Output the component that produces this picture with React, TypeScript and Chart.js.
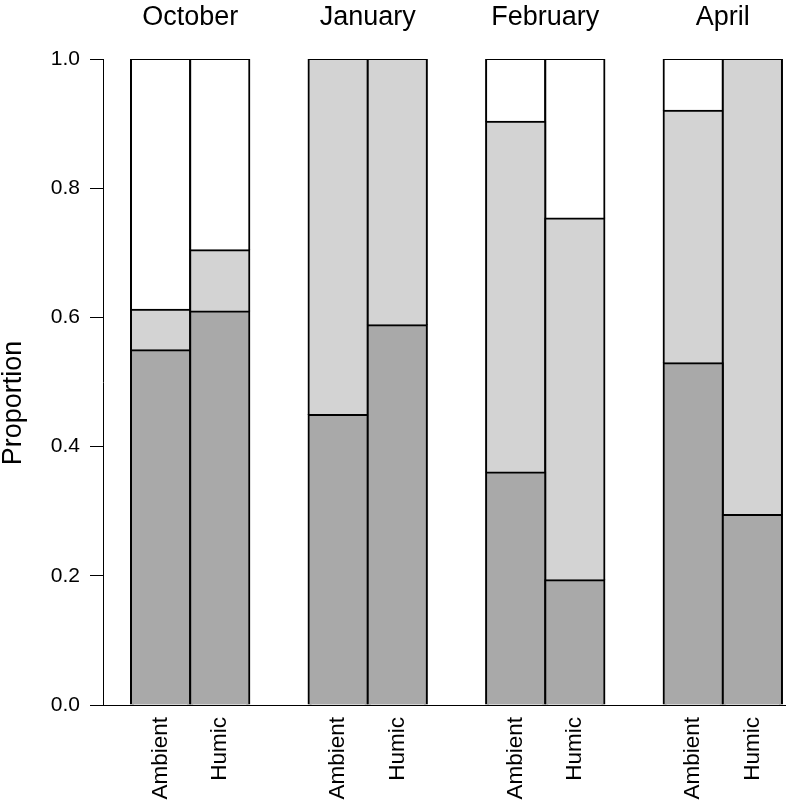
import React, { useEffect, useRef } from "react";
import { Chart, registerables } from "chart.js";

Chart.register(...registerables);

// ---- data ----
const months = ["October", "January", "February", "April"];
const treatments = ["Ambient", "Humic"];
// proportions per bar, month-major order (Ambient, Humic for each month)
const darkShare = [0.549, 0.609, 0.449, 0.588, 0.36, 0.193, 0.529, 0.294];
const lightShare = [0.063, 0.095, 0.551, 0.412, 0.543, 0.56, 0.391, 0.706];
const whiteShare = [0.388, 0.296, 0, 0, 0.097, 0.247, 0.08, 0];
const yTicks = [0, 0.2, 0.4, 0.6, 0.8, 1.0];
const yTitle = "Proportion";

const FONT = '"Liberation Sans", Arial, Helvetica, sans-serif';
const groupSize = treatments.length + 1; // bars plus one empty slot
const slotOf = (i: number) =>
  Math.floor(i / treatments.length) * groupSize + (i % treatments.length) + 0.5;
const barSlots = darkShare.map((_, i) => slotOf(i));
const monthCenters = months.map((_, m) => m * groupSize + treatments.length / 2);
const xMin = -0.473;
const xMax = months.length * groupSize - 1 + 0.068;

const yTitlePlugin = {
  id: "yTitlePlugin",
  afterDraw(chart: any) {
    const { ctx, chartArea } = chart;
    ctx.save();
    ctx.fillStyle = "#000";
    ctx.font = `27px ${FONT}`;
    ctx.textAlign = "center";
    ctx.textBaseline = "middle";
    ctx.translate(14, (chartArea.top + chartArea.bottom) / 2 + 21);
    ctx.rotate(-Math.PI / 2);
    ctx.fillText(yTitle, 0, 0);
    ctx.restore();
  },
};

export default function App() {
  const ref = useRef<HTMLCanvasElement | null>(null);

  useEffect(() => {
    if (!ref.current) return;
    Chart.defaults.font.family = FONT;
    Chart.defaults.color = "#000";

    const mk = (label: string, values: number[], color: string) => ({
      label,
      data: values.map((v, i) => ({ x: barSlots[i], y: v })),
      backgroundColor: color,
      borderColor: "#000",
      borderWidth: 2,
      inflateAmount: 1,
      borderSkipped: "start" as const,
      categoryPercentage: 1,
      barPercentage: 1,
    });

    const chart = new Chart(ref.current, {
      type: "bar",
      data: {
        datasets: [
          mk("dark", darkShare, "#A9A9A9"),
          mk("light", lightShare, "#D3D3D3"),
          mk("white", whiteShare, "#FFFFFF"),
        ],
      },
      plugins: [yTitlePlugin],
      options: {
        animation: false,
        responsive: true,
        maintainAspectRatio: false,
        layout: { padding: 0 },
        plugins: { legend: { display: false }, tooltip: { enabled: false } },
        scales: {
          x: {
            type: "linear",
            position: "bottom",
            stacked: true,
            offset: false,
            min: xMin,
            max: xMax,
            afterBuildTicks: (s: any) => {
              s.ticks = barSlots.map((v) => ({ value: v }));
            },
            afterFit: (s: any) => {
              s.height = 98;
              s.paddingLeft = 0;
              s.paddingRight = 0;
            },
            ticks: {
              autoSkip: false,
              minRotation: 90,
              maxRotation: 90,
              padding: 12,
              color: "#000",
              font: { size: 22.5, family: FONT },
              callback: (_v: any, i: number) => treatments[i % treatments.length],
            },
            grid: { display: false, drawTicks: false, offset: false },
            border: { display: true, color: "#000", width: 1 },
          },
          x2: {
            type: "linear",
            position: "top",
            offset: false,
            min: xMin,
            max: xMax,
            afterBuildTicks: (s: any) => {
              s.ticks = monthCenters.map((v) => ({ value: v }));
            },
            afterFit: (s: any) => {
              s.height = 59;
              s.paddingLeft = 0;
              s.paddingRight = 0;
            },
            ticks: {
              autoSkip: false,
              maxRotation: 0,
              minRotation: 0,
              padding: 28,
              color: "#000",
              font: { size: 27, family: FONT, lineHeight: 1 },
              callback: (_v: any, i: number) => months[i],
            },
            grid: { display: false, drawTicks: false, offset: false },
            border: { display: false },
          },
          y: {
            type: "linear",
            stacked: true,
            min: 0,
            max: 1,
            afterBuildTicks: (s: any) => {
              s.ticks = yTicks.map((v) => ({ value: v }));
            },
            afterFit: (s: any) => {
              s.width = 103;
              s.paddingTop = 0;
              s.paddingBottom = 0;
            },
            ticks: {
              padding: 10,
              color: "#000",
              font: { size: 21, family: FONT },
              callback: (v: any) => Number(v).toFixed(1),
            },
            grid: {
              drawOnChartArea: false,
              drawTicks: true,
              tickLength: 13,
              color: "#000",
              lineWidth: 1,
            },
            border: { display: true, color: "#000", width: 1 },
            title: { display: false },
          },
        },
      },
    });
    return () => chart.destroy();
  }, []);

  return (
    <div style={{ position: "absolute", left: 0, top: 0, width: 786, height: 803, background: "#fff" }}>
      <canvas ref={ref} />
    </div>
  );
}
